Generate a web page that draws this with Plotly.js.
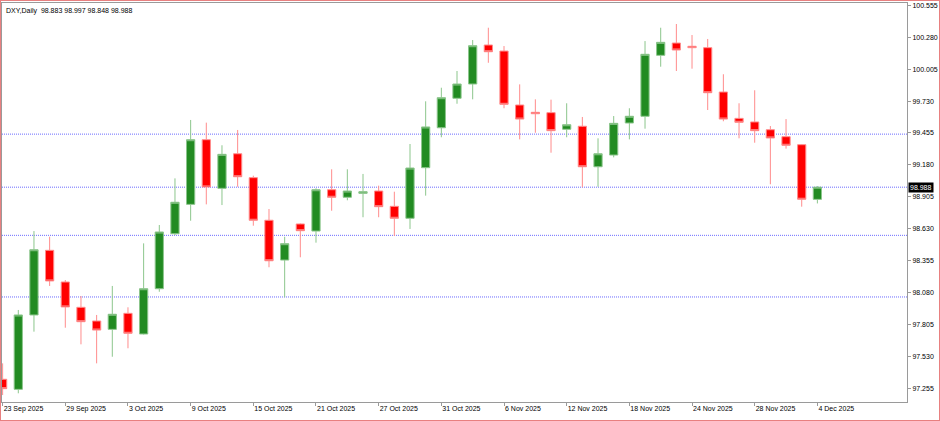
<!DOCTYPE html>
<html><head><meta charset="utf-8">
<script src="https://cdn.plot.ly/plotly-3.0.1.min.js"></script>
<style>
html,body{margin:0;padding:0;background:#fff;}
#chart{position:absolute;left:0;top:0;width:940px;height:421px;}
#frame{position:absolute;left:0;top:0;width:938px;height:419px;border:1px solid #e88080;pointer-events:none;}
</style>
</head><body><div id="chart"></div><div id="frame"></div>
<script>
const symbol = "DXY,Daily";
const dates = [
 "2025-09-23","2025-09-24","2025-09-25","2025-09-26","2025-09-29","2025-09-30",
 "2025-10-01","2025-10-02","2025-10-03","2025-10-06","2025-10-07","2025-10-08","2025-10-09","2025-10-10",
 "2025-10-13","2025-10-14","2025-10-15","2025-10-16","2025-10-17","2025-10-20","2025-10-21","2025-10-22",
 "2025-10-23","2025-10-24","2025-10-27","2025-10-28","2025-10-29","2025-10-30","2025-10-31",
 "2025-11-03","2025-11-04","2025-11-05","2025-11-06","2025-11-07","2025-11-10","2025-11-11","2025-11-12",
 "2025-11-13","2025-11-14","2025-11-17","2025-11-18","2025-11-19","2025-11-20","2025-11-21","2025-11-24",
 "2025-11-25","2025-11-26","2025-11-27","2025-11-28",
 "2025-12-01","2025-12-02","2025-12-03","2025-12-04"
];
const openP = [97.333,97.246,97.887,98.444,98.171,97.953,97.835,97.763,97.901,97.723,
 98.113,98.587,98.840,99.397,98.978,99.276,99.070,98.703,98.360,98.671,
 98.610,98.966,98.901,98.935,98.955,98.823,98.720,99.156,99.500,99.754,
 99.877,100.213,100.161,99.696,99.633,99.630,99.487,99.513,99.164,99.265,
 99.541,99.599,100.124,100.230,100.202,100.190,99.808,99.581,99.550,99.483,
 99.423,99.354,98.883];
const highP = [97.470,97.930,98.610,98.561,98.188,98.050,97.887,98.137,97.953,98.504,
 98.662,99.064,99.567,99.544,99.349,99.481,99.087,98.800,98.561,98.675,
 98.978,99.142,99.142,99.102,99.001,98.949,99.360,99.728,99.845,99.989,
 100.256,100.362,100.204,99.874,99.745,99.742,99.711,99.593,99.409,99.601,
 99.668,100.247,100.362,100.394,100.299,100.265,99.961,99.711,99.823,99.515,
 99.575,99.360,98.997];
const lowP = [97.197,97.212,97.743,98.137,97.777,97.634,97.470,97.527,97.600,97.719,
 98.087,98.576,98.699,98.840,98.834,98.992,98.656,98.298,98.039,98.384,
 98.510,98.785,98.875,98.729,98.729,98.567,98.628,98.915,99.418,99.707,
 99.745,100.060,99.668,99.400,99.457,99.285,99.418,98.987,98.992,99.245,
 99.400,99.492,100.026,99.989,100.009,99.653,99.556,99.409,99.371,99.013,
 99.320,98.820,98.848];
const closeP = [97.252,97.887,98.449,98.180,97.956,97.829,97.757,97.893,97.729,98.113,
 98.602,98.858,99.397,98.990,99.271,99.078,98.703,98.354,98.501,98.613,
 98.966,98.901,98.955,98.949,98.820,98.720,99.153,99.507,99.759,99.877,
 100.207,100.155,99.702,99.575,99.621,99.475,99.526,99.164,99.276,99.538,
 99.599,100.133,100.236,100.170,100.190,99.802,99.575,99.547,99.475,99.412,
 99.349,98.884,98.988];
const tickDates = ["2025-09-23","2025-09-29","2025-10-03","2025-10-09","2025-10-15","2025-10-21","2025-10-27",
 "2025-10-31","2025-11-06","2025-11-12","2025-11-18","2025-11-24","2025-11-28","2025-12-04"];
const tickLabels = ["23 Sep 2025","29 Sep 2025","3 Oct 2025","9 Oct 2025","15 Oct 2025","21 Oct 2025","27 Oct 2025",
 "31 Oct 2025","6 Nov 2025","12 Nov 2025","18 Nov 2025","24 Nov 2025","28 Nov 2025","4 Dec 2025"];
const priceTicks = [97.255,97.530,97.805,98.080,98.355,98.630,98.905,99.180,99.455,99.730,100.005,100.280,100.555];
const levels = [99.445, 98.988, 98.573, 98.042];

const n = closeP.length - 1;
const lastClose = closeP[n];
const font = {family:'Liberation Sans, Arial, sans-serif', size:7, color:'#000'};

const trace = {
  type:'candlestick', x:dates, open:openP, high:highP, low:lowP, close:closeP,
  increasing:{line:{color:'#8cc68c', width:1}, fillcolor:'#228B22'},
  decreasing:{line:{color:'#ff8c8c', width:1}, fillcolor:'#ff0000'},
  whiskerwidth:0, hoverinfo:'skip'
};

const shapes = levels.map(v => ({
  type:'line', xref:'paper', x0:0, x1:1, yref:'y', y0:v, y1:v,
  line:{color:'#6b6bff', width:1, dash:'1px,1px'}, layer:'below'
}));

const header = symbol + '\u00a0\u00a0' + [openP[n],highP[n],lowP[n],closeP[n]].map(v=>v.toFixed(3)).join(' ');

const layout = {
  width:940, height:421,
  margin:{l:2, r:33, t:3, b:19, pad:0},
  paper_bgcolor:'#ffffff', plot_bgcolor:'#ffffff',
  showlegend:false, boxgap:0.25,
  font:font,
  xaxis:{type:'category', range:[-0.04, 57.72], rangeslider:{visible:false},
    showgrid:false, zeroline:false, showline:true, mirror:true, linecolor:'#9a9a9a', linewidth:1,
    ticks:'outside', ticklen:3, tickcolor:'#9a9a9a', tickvals:tickDates, ticktext:tickLabels,
    ticklabelposition:'outside right', tickfont:font, automargin:false, fixedrange:true},
  yaxis:{side:'right', range:[97.137, 100.575], tickvals:priceTicks, tickformat:'.3f',
    showgrid:false, zeroline:false, showline:true, mirror:true, linecolor:'#9a9a9a', linewidth:1,
    ticks:'outside', ticklen:3, tickcolor:'#9a9a9a', tickfont:font, automargin:false, fixedrange:true},
  shapes:shapes,
  annotations:[
    {xref:'paper', yref:'paper', x:0, y:1, xanchor:'left', yanchor:'top', xshift:2, yshift:-2,
     text:header, showarrow:false, font:font},
    {xref:'paper', yref:'y', x:1, y:lastClose, xanchor:'left', yanchor:'middle', xshift:1,
     text:lastClose.toFixed(3), showarrow:false, bgcolor:'#000000', borderpad:1,
     font:{family:font.family, size:7, color:'#ffffff'}}
  ]
};

Plotly.newPlot('chart', [trace], layout, {staticPlot:true, displayModeBar:false});
</script>
</body></html>
